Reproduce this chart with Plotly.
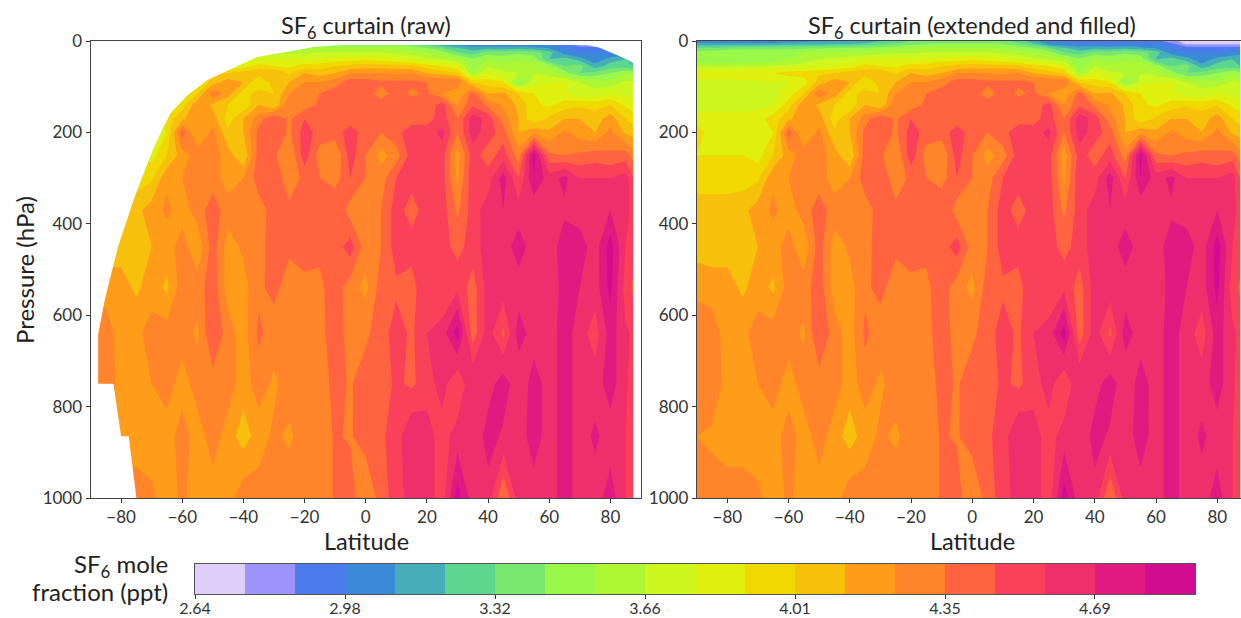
import plotly.graph_objects as go

latitudes = [-90,-85,-80,-75,-70,-65,-60,-55,-50,-45,-40,-35,-30,-25,-20,-15,-10,-5,0,
             5,10,15,20,25,30,35,40,45,50,55,60,65,70,75,80,85,87.5]
pressures = [0,5,15,25,40,55,70,90,115,140,170,200,250,300,370,450,540,640,750,865,1000]

# values read as a position along the colour bar (0 = 2.64 ppt, one unit = one band)
level_p0000 = [3.5,3.5,3.5,3.5,3.5,3.5,3.7,3.8,3.9,4,4.2,4.5,5,5.5,6,6.3,6.5,6.6,6.6,
               6.5,6.3,5.5,4.5,3,2.6,2.4,2.3,2.3,2.3,2.4,2.4,1.5,0.5,0.5,0.5,0.5,0.5]
level_p0005 = [4,4,4,4,4,4,4.2,4.3,4.4,4.5,4.6,5,5.5,6,6.5,6.8,7,7,7,
               7,6.8,6,5,3.5,3,2.7,2.7,2.7,2.7,2.8,2.8,2,0.6,0.6,0.6,0.6,0.6]
level_p0015 = [6,6,6.2,6.3,6.4,6.5,6.6,6.7,6.8,7,7,7,7.3,7.6,7.8,8,8,8,8,
               8,8,7.5,7,6,5,4.3,4.5,4.3,4.5,4.2,3.8,2.8,2.5,2.5,2.5,2.5,2.5]
level_p0025 = [7.5,7.8,8,8,8,8,8,8,8,8,8.2,8.3,8.5,8.8,8.8,9,9,9,9,
               9,8.8,8.5,8,7.5,6,5.5,6.5,6.5,6.8,6.5,5.5,3.5,3,3,2.8,3.2,3.5]
level_p0040 = [7.5,7,7,7,7.2,7.5,8,8.5,9,9.3,9.5,10,10,10,10,10.2,10.4,10.5,10.8,
               10.5,10,9.7,9.3,9,8.4,7.2,8,7.5,7.8,7.5,5,5.5,4.5,3.2,4.5,5,5]
level_p0055 = [9,8.8,8.8,9,9,9.2,9.2,9.5,9.8,10,10.5,11.5,11,10.8,11.5,11.5,12,12.3,12.5,
               12.5,12.5,12.3,11.5,11,10.3,7.5,9,8.5,8.6,8.5,7.8,6,6.5,4.5,5.5,5.5,5]
level_p0070 = [10.5,10.5,10.5,10.6,10.8,11,11.5,11.5,11.8,12,12.5,12.5,13,11.8,13,12.5,13,14,14,
               14,13.8,14,13,12.5,12,8,10,9.2,9,9,8.5,7.5,6,6.3,7,7.8,7.5]
level_p0090 = [9.8,9.8,9.8,9.8,9.8,10,10,10.5,12.5,13.5,13,11,12.5,13,14,14,14.5,15.5,15.5,
               15.2,15.2,15.2,15,15,15,12,11.5,11,7,9.5,10,10,9,8.5,8.3,9.2,9]
level_p0115 = [9.5,9.5,9.5,9.5,9.5,9.7,10.5,12,14.8,13.5,11.5,12.5,12,14,14.3,15,15.6,15.6,15.6,
               14.5,15.5,14.8,15.2,14,13,15.5,13,13.2,12,11,10.6,10.2,9.6,9.4,10,9.6,9.5]
level_p0140 = [9.5,9.5,9.5,9.5,9.6,10,11.5,13.8,12.8,12,11.2,13,12,15,14.5,15.2,15.5,15.5,15.5,
               15.5,15.5,15.5,15.2,16.5,14,15.8,14.8,13.8,12.8,11.2,10.8,11.5,11.8,11.6,12,10.8,10.5]
level_p0170 = [10.5,10.5,10.5,10.5,10.6,11.5,12.7,14,13.5,11.5,13,14.5,16,14.8,16,15.4,15.6,15.5,15.5,
               15.5,16,15.6,15.6,16.5,15,17.6,16.6,14.5,13,11.2,12.2,13,13,12.5,13.5,12,11.5]
level_p0200 = [11.5,10.5,10,10,10,11,15.5,13,14.3,12.2,13,15.3,15.8,14.8,16.5,15.6,15.5,16.5,15.5,
               15,15.7,16.5,16.5,17.3,15,17.5,16.5,15.5,13,13.8,13.2,14.2,13.5,13,14.3,12.8,12.5]
level_p0250 = [11,11,11,11,10.6,12,13.5,14.5,14.5,13.5,12,15.5,15.2,14,16.6,14.5,14,16.5,15,
               13.6,14.5,16.5,16.5,16.5,13.5,16.5,15.5,16.5,14.5,19.5,15.2,15,15.2,15.5,15.2,15.5,14.5]
level_p0300 = [11.5,11.5,11.5,11.5,11.8,13.8,14,14.6,14.5,13.5,14,15.5,15.8,14.3,15.3,15,14.5,16,15,
               14.5,16,16.5,16.5,16.5,13.8,16.8,16.5,18.5,16,19,17.5,18.3,17,17,17,17.5,16]
level_p0370 = [12.5,12.5,12.5,12.7,13.5,14.2,13.5,14.5,15.5,14.5,14.5,14.5,15.5,15.3,15.6,15.2,16,14.5,15,
               15,16.5,15.5,16.5,16.5,14.8,16.5,17.5,18,17.5,17.2,17.5,17.8,17.5,17.5,18,17.5,16.5]
level_p0450 = [12.5,12.5,12.5,12.5,13,13.5,14.5,13.2,15.5,13.5,14.2,14.6,15.5,15.2,15.8,15.2,15.5,16.5,14.5,
               15,16.5,16.5,16.5,16.5,15.6,16.5,17.5,17.5,18.5,17.5,17.5,18.5,18.5,17.5,19.5,17,16.5]
level_p0540 = [13.8,13.5,13.5,12.8,13.5,12.8,14.5,14.5,15.6,13.5,13.6,14.8,15.3,14.5,14.5,14.8,15.5,14.5,13.7,
               15.5,15.8,15.5,17,16,16.8,15.5,17.5,17.5,17.5,17.5,17.5,18.3,18,17.5,19.3,16.5,15.8]
level_p0640 = [14.5,14.6,13.5,13.7,14.5,14.5,14.5,13.8,16,14.5,13.5,15.2,14.5,14.5,14.5,14.7,15.5,14.6,14.8,
               15.5,16.5,15.8,17,17.5,19.5,15.5,17.5,15.8,18.5,17.5,17.5,18.5,17.5,16.5,18.5,17.2,16.8]
level_p0750 = [14.5,14.7,13.6,13.5,14,14.5,13.5,14.5,14.5,14.5,13.5,14.5,13.8,14.5,14.5,14.5,15.3,14.9,15.5,
               15.5,16.2,15.8,16.5,17.5,16,18,17.5,18.6,17.2,18.5,17.5,18.5,17.5,17.5,18.5,17.2,16.5]
level_p0865 = [14,13.8,13.5,13.5,13.5,13.5,14.5,13.5,14.5,13.5,12.5,13.5,14.2,13.8,14.5,14.5,15.1,14.9,15.5,
               15.8,16.5,18,17.5,16.5,17.5,17,18.5,17.8,17.5,18.5,17.5,18.5,17.5,18.2,17.5,17,16.5]
level_p1000 = [14.5,14.5,14.5,14.5,14.2,13.5,14.2,13.5,13.5,13.5,14.7,14.5,14.5,14.7,14.5,14.5,15.1,15.5,14,
               15.5,16.5,17.5,17.5,16.5,19.5,17.5,17.5,15,17.5,17.5,17.5,18.5,17.5,17.5,18.5,17,16.5]

level_rows = [level_p0000, level_p0005, level_p0015, level_p0025, level_p0040, level_p0055, level_p0070,
              level_p0090, level_p0115, level_p0140, level_p0170, level_p0200, level_p0250, level_p0300,
              level_p0370, level_p0450, level_p0540, level_p0640, level_p0750, level_p0865, level_p1000]

band_start = 2.64
band_size = 0.1139
z_ppt = [[band_start + v * band_size for v in row] for row in level_rows]

band_colors = ["#DFCDF9","#9C94FA","#4C7BEE","#3A8AD8","#45AEB8","#5DD68F","#7AE86E","#9AF84A","#AEF735","#CDF71F",
               "#E0F00F","#F0D800","#F7C00C","#FF9C1A","#FF842A","#FF6340","#F9425A","#EF2F6C","#E01A80","#D20C90"]
tick_values = [2.64, 2.9817, 3.3234, 3.6651, 4.0068, 4.3485, 4.69]
tick_labels = ["2.64","2.98","3.32","3.66","4.01","4.35","4.69"]

# edge of the raw curtain (latitude, pressure)
raw_edge_lat = [-75,-77.5,-80,-82.5,-87.5,-87.5,-85.3,-81,-75.5,-69.6,-66.5,-63.7,-58.2,-51.6,-44.8,-35.6,-26,-17,-7.5,72.5,76.5,80.4,84,87.5]
raw_edge_p   = [1000,865,865,750,750,642,565,450,340,238,193,157,118,85,63,35,24,13,9,9,15,26,36,48]

n_bands = len(band_colors)
nc = n_bands + 1
scale = [[0, band_colors[0]]]
for i, c in enumerate(band_colors):
    scale.append([(i + 1) / nc, c])
scale.append([1, band_colors[-1]])

W, H = 1241, 618
FONT = "Lato, 'Open Sans', sans-serif"
INK = "#333333"

def contour(xa, ya):
    return go.Contour(
        x=latitudes, y=pressures, z=z_ppt, xaxis=xa, yaxis=ya,
        colorscale=scale, autocontour=False, showscale=False, hoverinfo="skip",
        contours=dict(coloring="fill", start=band_start, end=band_start + n_bands * band_size + 1e-6,
                      size=band_size, showlines=False),
        line=dict(width=0, smoothing=0),
    )

fig = go.Figure()
fig.add_trace(contour("x", "y"))
fig.add_trace(contour("x2", "y2"))
fig.add_trace(go.Scatter(
    x=[-90] + raw_edge_lat + [87.5, 90, 90, -90],
    y=[1000] + raw_edge_p + [1000, 1000, 0, 0],
    mode="lines", fill="toself", fillcolor="white", line=dict(width=0),
    hoverinfo="skip", showlegend=False, xaxis="x", yaxis="y"))

# colour bar: one cell per band on its own axis
band_centres = [band_start + (i + 0.5) * band_size for i in range(n_bands)]
fig.add_trace(go.Heatmap(
    x=band_centres, y=[0], z=[band_centres], xaxis="x3", yaxis="y3", showscale=False, hoverinfo="skip",
    zmin=band_centres[0], zmax=band_centres[-1],
    colorscale=[[i / (n_bands - 1), c] for i, c in enumerate(band_colors)]))

common_x = dict(showline=True, linecolor="#444444", linewidth=1, mirror=True, ticks="outside", ticklen=4,
                tickcolor=INK, tickfont=dict(family=FONT, size=17, color=INK), tickvals=[-80,-60,-40,-20,0,20,40,60,80],
                showgrid=False, zeroline=False)
common_y = dict(showline=True, linecolor="#444444", linewidth=1, mirror=True, ticks="outside", ticklen=4,
                tickcolor=INK, tickfont=dict(family=FONT, size=17, color=INK), tickvals=[0,200,400,600,800,1000],
                range=[1000, 0], showgrid=False, zeroline=False)
top, bottom = 41, 498
fig.update_layout(
    width=W, height=H, margin=dict(l=0, r=0, t=0, b=0, autoexpand=False), paper_bgcolor="white", plot_bgcolor="white",
    showlegend=False, font=dict(family=FONT, color=INK),
    xaxis={**common_x, "domain": [90.5 / W, 641 / W], "range": [-90, 90], "anchor": "y"},
    yaxis={**common_y, "domain": [1 - bottom / H, 1 - top / H], "anchor": "x"},
    xaxis2={**common_x, "domain": [696.7 / W, 1], "range": [-90, 87.75], "anchor": "y2"},
    yaxis2={**common_y, "domain": [1 - bottom / H, 1 - top / H], "anchor": "x2"},
    xaxis3=dict(domain=[195 / W, 1195 / W], range=[band_start, band_start + n_bands * band_size], anchor="y3",
                tickmode="array", tickvals=tick_values, ticktext=tick_labels, ticks="outside", ticklen=4,
                tickcolor=INK, tickfont=dict(family=FONT, size=16, color=INK), ticklabelstandoff=-4,
                showline=True, linecolor="#555555", linewidth=1, mirror=True, showgrid=False, zeroline=False),
    yaxis3=dict(domain=[1 - 594 / H, 1 - 564 / H], range=[-0.5, 0.5], anchor="x3", showticklabels=False, ticks="",
                showline=True, linecolor="#555555", linewidth=1, mirror=True, showgrid=False, zeroline=False),
)

def label(text, x, y, size, xanchor="center", **kw):
    fig.add_annotation(text=text, xref="paper", yref="paper", x=x / W, y=1 - y / H, showarrow=False,
                       xanchor=xanchor, yanchor="middle",
                       font=dict(family=FONT, size=size, color="#222222"), **kw)

label("SF<sub>6</sub> curtain (raw)", 366, 27, 23.5)
label("SF<sub>6</sub> curtain (extended and filled)", 972, 27, 23.5)
label("Latitude", 366, 541, 23.5)
label("Latitude", 972, 541, 23.5)
label("Pressure (hPa)", 24, 270, 24, textangle=-90)
label("SF<sub>6</sub> mole", 170, 565, 24, xanchor="right")
label("fraction (ppt)", 170, 591, 24, xanchor="right")

fig.write_html("out.html", post_script="document.body.style.margin='0';", config={"displayModeBar": False})
